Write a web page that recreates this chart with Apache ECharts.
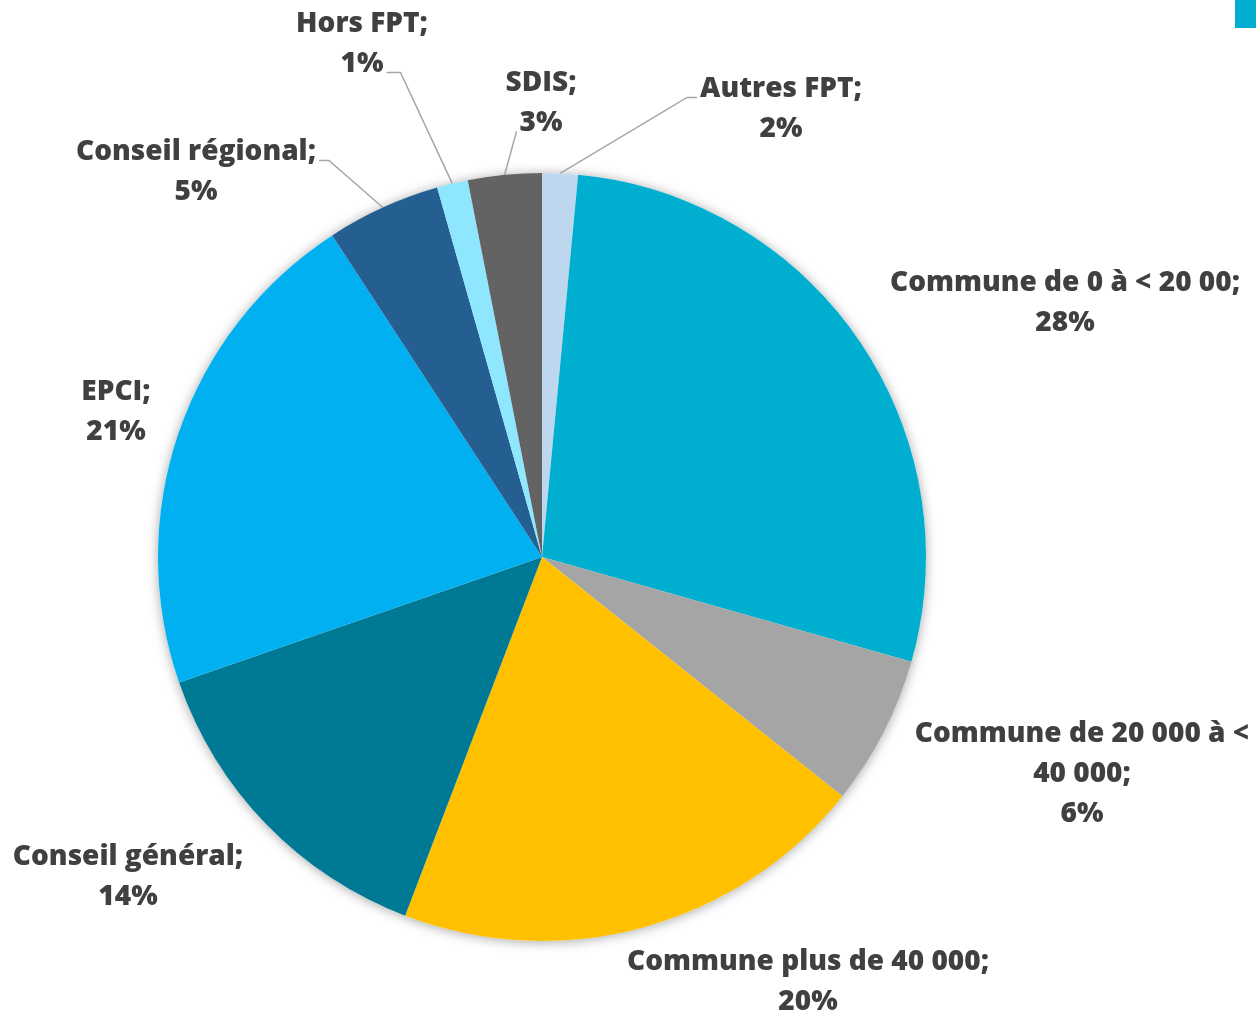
<!DOCTYPE html>
<html>
<head>
<meta charset="utf-8">
<title>Répartition par type d'employeur</title>
<script src="https://cdn.jsdelivr.net/npm/echarts@6/dist/echarts.min.js"></script>
<style>
  html, body { margin: 0; padding: 0; background: #ffffff; }
  #chart { width: 1256px; height: 1017px; }
</style>
</head>
<body>
<div id="chart"></div>
<script>
// Employer categories, clockwise from 12 o'clock
const categories = [
  'Autres FPT',
  'Commune de 0 à < 20 00',
  'Commune de 20 000 à < 40 000',
  'Commune plus de 40 000',
  'Conseil général',
  'EPCI',
  'Conseil régional',
  'Hors FPT',
  'SDIS'
];
// Share of each category (%)
const shares = [1.5, 27.9, 6.3, 20.1, 13.9, 21.1, 4.8, 1.3, 3.1];

// Slice palette, same order as categories
const sliceColors = ['#BDD7EE', '#00AFD0', '#A5A5A5', '#FFC000', '#007A94', '#00B0F0', '#255E91', '#8EE7FF', '#636363'];

// Pie geometry
const PIE_CX = 542, PIE_CY = 557, PIE_R = 384;

// Label typography
const FONT_FAMILY = '"Open Sans", "Noto Sans", sans-serif';
const FONT_WEIGHT = 800;
const FONT_SIZE = 28;
const LINE_H = 40;

// Where each label block is centred on the page
const labelCenters = [
  [781, 109],
  [1065, 303],
  [1082, 774],
  [808, 982],
  [128, 877],
  [116, 412],
  [196, 172],
  [362, 44],
  [541, 103]
];
// How leader lines meet their labels: which text line, which side, horizontal tail length
const leaderSpecs = {
  0: { line: 0, side: 'left', tail: 10 },
  6: { line: 0, side: 'right', tail: 10 },
  7: { line: 1, side: 'right', tail: 14 },
  8: { line: 1, side: 'left', tail: 0 }
};

// Break the long category name the way it is laid out
function labelText(i) {
  const pct = Math.round(shares[i]) + '%';
  if (i === 2) return 'Commune de 20 000 à <\n40 000;\n' + pct;
  return categories[i] + ';\n' + pct;
}

const measureCtx = document.createElement('canvas').getContext('2d');
function textWidth(str) {
  measureCtx.font = FONT_WEIGHT + ' ' + FONT_SIZE + 'px ' + FONT_FAMILY;
  return measureCtx.measureText(str).width;
}

// Point on the pie rim at the middle of slice i
function sliceMidPoint(i) {
  const total = shares.reduce((a, b) => a + b, 0);
  let before = 0;
  for (let k = 0; k < i; k++) before += shares[k];
  const a = ((before + shares[i] / 2) / total) * Math.PI * 2;
  return [PIE_CX + PIE_R * Math.sin(a), PIE_CY - PIE_R * Math.cos(a)];
}

const pieData = categories.map((name, i) => ({
  name: name,
  value: shares[i],
  itemStyle: { color: sliceColors[i] },
  labelLine: { show: leaderSpecs[i] !== undefined }
}));

const chart = echarts.init(document.getElementById('chart'), null, { renderer: 'canvas' });

chart.setOption({
  backgroundColor: '#ffffff',
  animation: false,
  graphic: [
    {
      type: 'circle',
      z: 0,
      silent: true,
      shape: { cx: PIE_CX, cy: PIE_CY, r: PIE_R },
      style: { fill: '#ffffff', shadowBlur: 12, shadowColor: 'rgba(0,0,0,0.35)', shadowOffsetY: 1 }
    },
    {
      type: 'rect',
      right: 0,
      top: 0,
      z: 0,
      silent: true,
      shape: { width: 21, height: 28 },
      style: { fill: '#00AFD0' }
    }
  ],
  series: [
    {
      type: 'pie',
      z: 2,
      center: [PIE_CX, PIE_CY],
      radius: PIE_R,
      startAngle: 90,
      clockwise: true,
      avoidLabelOverlap: false,
      data: pieData,
      itemStyle: { borderWidth: 0 },
      emphasis: { disabled: true },
      label: {
        show: true,
        position: 'outside',
        formatter: p => labelText(p.dataIndex),
        fontFamily: FONT_FAMILY,
        fontWeight: FONT_WEIGHT,
        fontSize: FONT_SIZE,
        lineHeight: LINE_H,
        color: '#404040',
        align: 'center'
      },
      labelLine: {
        length: 10,
        length2: 10,
        lineStyle: { color: '#A6A6A6', width: 1.5 }
      },
      labelLayout: function (params) {
        const i = params.dataIndex;
        const c = labelCenters[i];
        const out = { x: c[0], y: c[1], align: 'center', verticalAlign: 'middle' };
        const spec = leaderSpecs[i];
        if (spec) {
          const lines = labelText(i).split('\n');
          const top = c[1] - (lines.length * LINE_H) / 2;
          const y = top + spec.line * LINE_H + LINE_H * 0.5 + FONT_SIZE * 0.3;
          const half = textWidth(lines[spec.line]) / 2 + 3;
          const dir = spec.side === 'left' ? -1 : 1;
          const end = [c[0] + dir * half, y];
          const bend = [end[0] + dir * spec.tail, y];
          out.labelLinePoints = [sliceMidPoint(i), bend, end];
        }
        return out;
      }
    }
  ]
});
</script>
</body>
</html>
